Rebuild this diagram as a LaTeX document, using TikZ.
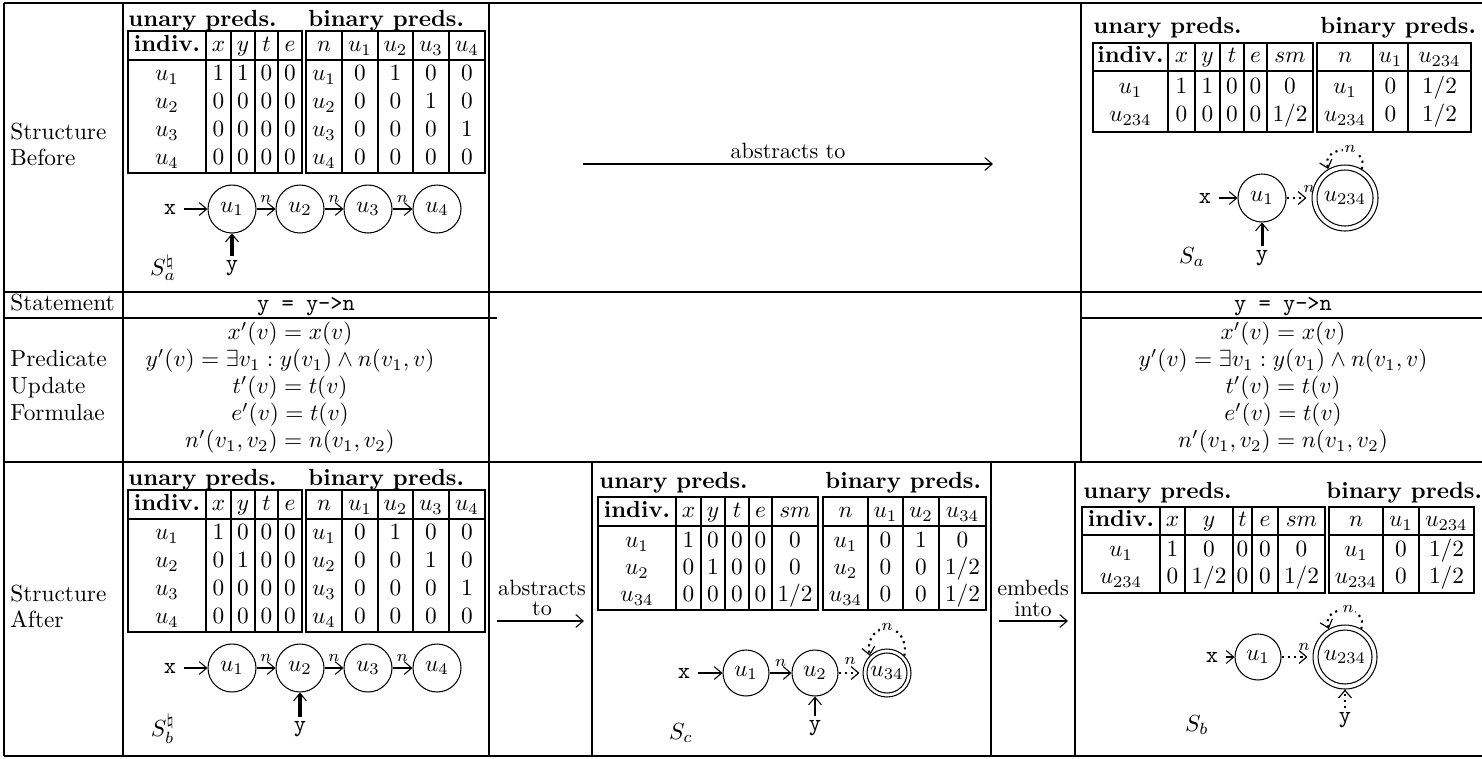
\documentclass[tikz,border=0pt]{standalone}
\usetikzlibrary{arrows.meta,calc}
\newlength\pxu
\setlength\pxu{0.429pt}
\tikzset{
  cell/.style={inner sep=0pt, text height=7pt, text depth=2.2pt},
  lbl/.style={cell, anchor=west},
  hdr/.style={inner sep=0pt, anchor=base west, font=\bfseries},
  tline/.style={line width=0.85pt},
  gthin/.style={line width=0.6pt},
  gthick/.style={line width=1.15pt},
  snode/.style={circle, draw, line width=0.45pt, inner sep=0pt, minimum size=#1},
  arr/.style={-{Straight Barb[length=3.2pt,width=5.5pt,line width=0.45pt]}, line width=0.45pt},
  yarr/.style={-{Straight Barb[length=3.2pt,width=5.5pt,line width=0.45pt]}, line width=1.3pt},
  darr/.style={-{Straight Barb[length=3.2pt,width=5.5pt,line width=0.5pt]}, line width=0.9pt, dash pattern=on 0.9pt off 1.8pt},
  elab/.style={font=\scriptsize, inner sep=0.5pt},
  xlab/.style={font=\ttfamily, inner sep=3pt},
  vlab/.style={font=\ttfamily, inner sep=1.5pt},
  alab/.style={font=\fontsize{9.5}{10}\selectfont, inner sep=0pt},
}
\newcommand\tbox[6]{%
  \draw[tline] (#1,#2) rectangle (#3,#4);
  \draw[tline] (#1,#5) -- (#3,#5);
  \foreach \sx in {#6} {\draw[tline] (\sx,#2) -- (\sx,#4);}%
}
\newcommand\trow[3]{%
  \foreach \xx/\ctx [count=\k] in {#3} {\node[cell] (#1-\k) at (\xx,#2) {\ctx};}%
}
\begin{document}
\begin{tikzpicture}[x=0.429pt,y=-0.429pt]
\useasboundingbox (0,0) rectangle (1482,758);
% ---------- grid ----------
\draw[gthick] (4,3) -- (1482,3);
\draw[gthick] (4,756) -- (1482,756);
\draw[gthin] (4,3) -- (4,756);
\draw[gthin] (123,3) -- (123,756);
\draw[gthick] (489,3) -- (489,756);
\draw[gthick] (1081,3) -- (1081,462);
\draw[gthick] (1075,462) -- (1075,756);
\draw[gthin] (592,462) -- (592,756);
\draw[gthin] (991,462) -- (991,756);
\draw[gthick] (4,292) -- (1482,292);
\draw[gthick] (4,318) -- (497,318);
\draw[gthick] (1081,318) -- (1482,318);
\draw[gthick] (4,462) -- (1482,462);
% ---------- row labels ----------
\node[lbl] (rb1) at (10,134) {Structure};
\node[lbl] (rb2) at (10,160) {Before};
\node[lbl] (rs) at (10,305) {Statement};
\node[lbl] (rp1) at (10,361) {Predicate};
\node[lbl] (rp2) at (10,388) {Update};
\node[lbl] (rp3) at (10,415) {Formulae};
\node[lbl] (ra1) at (10,596) {Structure};
\node[lbl] (ra2) at (10,622) {After};
% ---------- statement and formulae ----------
\node[cell] (stL) at (306,305) {\texttt{y = y->n}};
\node[cell] (stR) at (1283,305) {\texttt{y = y->n}};
\foreach \cx/\sd in {290/L,1283/R}{
  \node[cell] (f1\sd) at (\cx,334) {$x'(v) = x(v)$};
  \node[cell] (f2\sd) at (\cx,361) {$y'(v) = \exists v_1 : y(v_1) \wedge n(v_1, v)$};
  \node[cell] (f3\sd) at (\cx,388) {$t'(v) = t(v)$};
  \node[cell] (f4\sd) at (\cx,415) {$e'(v) = t(v)$};
  \node[cell] (f5\sd) at (\cx,442) {$n'(v_1, v_2) = n(v_1, v_2)$};
}
% ---------- abstraction arrows ----------
\node[alab] (abs1) at (788,151) {abstracts to};
\coordinate (a1s) at (583,164); \coordinate (a1e) at (993,164);
\draw[arr] (a1s) -- (a1e);
\node[alab] (abs2a) at (542,588) {abstracts};
\node[alab] (abs2b) at (542,609) {to};
\coordinate (a2s) at (497,621); \coordinate (a2e) at (584,621);
\draw[arr] (a2s) -- (a2e);
\node[alab] (emb1) at (1033,588) {embeds};
\node[alab] (emb2) at (1033,609) {into};
\coordinate (a3s) at (999,621); \coordinate (a3e) at (1068,621);
\draw[arr] (a3s) -- (a3e);
% ================= TL : S^natural_a =================
\node[hdr] (tlU) at (128,26) {unary preds.};
\node[hdr] (tlB) at (308,26) {binary preds.};
\tbox{128}{31}{302}{173}{60}{206,231,255,278}
\tbox{306}{31}{485}{173}{60}{342,378,413,449}
\trow{tlh}{46}{167/{\textbf{indiv.}},218.5/$x$,243/$y$,266.5/$t$,290/$e$,324/$n$,360/$u_1$,395.5/$u_2$,431/$u_3$,467/$u_4$}
\trow{tlr1}{75}{167/$u_1$,218.5/1,243/1,266.5/0,290/0,324/$u_1$,360/0,395.5/1,431/0,467/0}
\trow{tlr2}{103}{167/$u_2$,218.5/0,243/0,266.5/0,290/0,324/$u_2$,360/0,395.5/0,431/1,467/0}
\trow{tlr3}{131}{167/$u_3$,218.5/0,243/0,266.5/0,290/0,324/$u_3$,360/0,395.5/0,431/0,467/1}
\trow{tlr4}{159}{167/$u_4$,218.5/0,243/0,266.5/0,290/0,324/$u_4$,360/0,395.5/0,431/0,467/0}
\node[snode=48\pxu] (tl1) at (232,209) {$u_1$};
\node[snode=48\pxu] (tl2) at (300,209) {$u_2$};
\node[snode=48\pxu] (tl3) at (368,209) {$u_3$};
\node[snode=48\pxu] (tl4) at (437,209) {$u_4$};
\node[xlab] (tlx) at (170,209) {x};
\node[vlab] (tly) at (232,268) {y};
\node[inner sep=0pt] (tlS) at (163,268) {$S^\natural_a$};
\draw[arr] (tlx) -- (tl1);
\draw[yarr] (tly) -- (tl1);
\draw[arr] (tl1) -- node[elab, above=2pt] {$n$} (tl2);
\draw[arr] (tl2) -- node[elab, above=2pt] {$n$} (tl3);
\draw[arr] (tl3) -- node[elab, above=2pt] {$n$} (tl4);
% ================= BL : S^natural_b =================
\node[hdr] (blU) at (128,485) {unary preds.};
\node[hdr] (blB) at (308,485) {binary preds.};
\tbox{128}{490}{302}{632}{519}{206,231,255,278}
\tbox{306}{490}{485}{632}{519}{342,378,413,449}
\trow{blh}{505}{167/{\textbf{indiv.}},218.5/$x$,243/$y$,266.5/$t$,290/$e$,324/$n$,360/$u_1$,395.5/$u_2$,431/$u_3$,467/$u_4$}
\trow{blr1}{534}{167/$u_1$,218.5/1,243/0,266.5/0,290/0,324/$u_1$,360/0,395.5/1,431/0,467/0}
\trow{blr2}{562}{167/$u_2$,218.5/0,243/1,266.5/0,290/0,324/$u_2$,360/0,395.5/0,431/1,467/0}
\trow{blr3}{590}{167/$u_3$,218.5/0,243/0,266.5/0,290/0,324/$u_3$,360/0,395.5/0,431/0,467/1}
\trow{blr4}{618}{167/$u_4$,218.5/0,243/0,266.5/0,290/0,324/$u_4$,360/0,395.5/0,431/0,467/0}
\node[snode=48\pxu] (bl1) at (232,668) {$u_1$};
\node[snode=48\pxu] (bl2) at (300,668) {$u_2$};
\node[snode=48\pxu] (bl3) at (368,668) {$u_3$};
\node[snode=48\pxu] (bl4) at (437,668) {$u_4$};
\node[xlab] (blx) at (170,668) {x};
\node[vlab] (bly) at (300,729) {y};
\node[inner sep=0pt] (blS) at (163,729) {$S^\natural_b$};
\draw[arr] (blx) -- (bl1);
\draw[yarr] (bly) -- (bl2);
\draw[arr] (bl1) -- node[elab, above=2pt] {$n$} (bl2);
\draw[arr] (bl2) -- node[elab, above=2pt] {$n$} (bl3);
\draw[arr] (bl3) -- node[elab, above=2pt] {$n$} (bl4);
% ================= TR : S_a =================
\node[hdr] (trU) at (1093,33) {unary preds.};
\node[hdr] (trB) at (1320,33) {binary preds.};
\tbox{1093}{43}{1313}{132}{71}{1168,1195,1220,1244,1267}
\tbox{1317}{43}{1471}{132}{71}{1373,1408}
\trow{trh}{57}{1130.5/{\textbf{indiv.}},1181.5/$x$,1207.5/$y$,1232/$t$,1255.5/$e$,1290/$sm$,1345/$n$,1390.5/$u_1$,1439.5/$u_{234}$}
\trow{trr1}{88}{1130.5/$u_1$,1181.5/1,1207.5/1,1232/0,1255.5/0,1290/0,1345/$u_1$,1390.5/0,1439.5/{1/2}}
\trow{trr2}{116}{1130.5/$u_{234}$,1181.5/0,1207.5/0,1232/0,1255.5/0,1290/{1/2},1345/$u_{234}$,1390.5/0,1439.5/{1/2}}
\node[snode=48\pxu] (tr1) at (1262,198) {$u_1$};
\node[snode=66\pxu] (tr2) at (1345,198) {};
\node[snode=56\pxu] (tr2i) at (1345,198) {$u_{234}$};
\node[xlab] (trx) at (1205,198) {x};
\node[vlab] (try) at (1262,258) {y};
\node[inner sep=0pt] (trS) at (1192,257) {$S_a$};
\draw[arr] (trx) -- (tr1);
\draw[yarr] (try) -- (tr1);
\draw[darr, shorten >=5\pxu] (tr1) -- (tr2);
\node[elab] (trn1) at (1309,189) {$n$};
\draw[darr] (tr2.60) .. controls +(8,-25) and +(-8,-25) .. (tr2.120);
\node[elab, fill=white] (trn2) at (1350,149) {$n$};
% ================= Sc =================
\node[hdr] (scU) at (599,488) {unary preds.};
\node[hdr] (scB) at (825,488) {binary preds.};
\tbox{598}{497}{818}{610}{526}{676,701,725,749,772}
\tbox{823}{497}{986}{610}{526}{868,903,939}
\trow{sch}{512}{637/{\textbf{indiv.}},688.5/$x$,713/$y$,737/$t$,760.5/$e$,795/$sm$,845.5/$n$,885.5/$u_1$,921/$u_2$,962.5/$u_{34}$}
\trow{scr1}{542}{637/$u_1$,688.5/1,713/0,737/0,760.5/0,795/0,845.5/$u_1$,885.5/0,921/1,962.5/0}
\trow{scr2}{569}{637/$u_2$,688.5/0,713/1,737/0,760.5/0,795/0,845.5/$u_2$,885.5/0,921/0,962.5/{1/2}}
\trow{scr3}{596}{637/$u_{34}$,688.5/0,713/0,737/0,760.5/0,795/{1/2},845.5/$u_{34}$,885.5/0,921/0,962.5/{1/2}}
\node[snode=46\pxu] (sc1) at (746,673) {$u_1$};
\node[snode=46\pxu] (sc2) at (815,673) {$u_2$};
\node[snode=48\pxu] (sc3) at (887,673) {};
\node[snode=40\pxu] (sc3i) at (887,673) {$u_{34}$};
\node[xlab] (scx) at (684,673) {x};
\node[vlab] (scy) at (815,728) {y};
\node[inner sep=0pt] (scS) at (681,733) {$S_c$};
\draw[arr] (scx) -- (sc1);
\draw[arr, line width=0.8pt] (scy) -- (sc2);
\draw[arr] (sc1) -- node[elab, above=2pt] {$n$} (sc2);
\draw[darr, shorten >=3\pxu] (sc2) -- (sc3);
\node[elab] (scn1) at (850,661) {$n$};
\draw[darr] (sc3.45) .. controls +(6,-36) and +(-6,-36) .. (sc3.135);
\node[elab, fill=white] (scn2) at (887,627) {$n$};
% ================= Sb =================
\node[hdr] (sbU) at (1083,498) {unary preds.};
\node[hdr] (sbB) at (1326,498) {binary preds.};
\tbox{1082}{507}{1325}{593}{535}{1160,1185,1233,1252,1278}
\tbox{1329}{507}{1474}{593}{535}{1383,1419}
\trow{sbh}{521}{1121/{\textbf{indiv.}},1172.5/$x$,1209/$y$,1242.5/$t$,1265/$e$,1301.5/$sm$,1356/$n$,1401/$u_1$,1446.5/$u_{234}$}
\trow{sbr1}{551}{1121/$u_1$,1172.5/1,1209/0,1242.5/0,1265/0,1301.5/0,1356/$u_1$,1401/0,1446.5/{1/2}}
\trow{sbr2}{578}{1121/$u_{234}$,1172.5/0,1209/{1/2},1242.5/0,1265/0,1301.5/{1/2},1356/$u_{234}$,1401/0,1446.5/{1/2}}
\node[snode=46\pxu] (sb1) at (1258,657) {$u_1$};
\node[snode=64\pxu] (sb2) at (1345,657) {};
\node[snode=54\pxu] (sb2i) at (1345,657) {$u_{234}$};
\node[xlab] (sbx) at (1212,657) {x};
\node[vlab] (sby) at (1345,720) {y};
\node[inner sep=0pt] (sbS) at (1197,725) {$S_b$};
\draw[arr] (sbx) -- (sb1);
\draw[darr, line width=1.1pt] (sby) -- (sb2);
\draw[darr, shorten >=5\pxu] (sb1) -- (sb2);
\node[elab] (sbn1) at (1304,647) {$n$};
\draw[darr] (sb2.60) .. controls +(8,-25) and +(-8,-25) .. (sb2.120);
\node[elab, fill=white] (sbn2) at (1348,609) {$n$};
\end{tikzpicture}
\end{document}
